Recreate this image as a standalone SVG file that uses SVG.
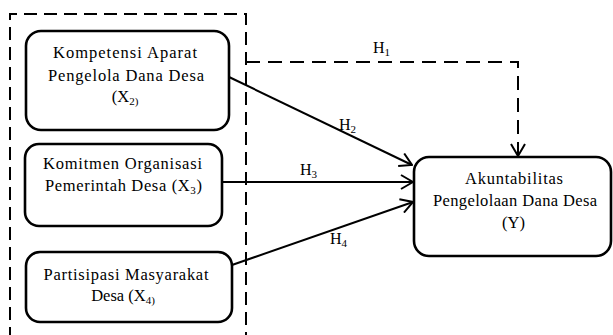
<svg xmlns="http://www.w3.org/2000/svg" width="613" height="335" viewBox="0 0 613 335">
<style>
.box{fill:#fff;stroke:#000;stroke-width:2.6}
.t{font-family:"Liberation Serif","Times New Roman",serif;font-size:16.5px;fill:#000;text-anchor:middle}
.h{font-family:"Liberation Serif","Times New Roman",serif;font-size:16px;fill:#000}
.sub{font-size:11px}
.ln{stroke:#000;stroke-width:2;fill:none}
.dash{stroke:#000;stroke-width:2;fill:none;stroke-dasharray:14 8}
</style>
<defs>
<marker id="arr" markerUnits="userSpaceOnUse" markerWidth="14" markerHeight="16" viewBox="0 0 14 16" refX="13" refY="8" orient="auto">
<path d="M1,1 L13,8 L1,15" fill="none" stroke="#000" stroke-width="2"/>
</marker>
</defs>
<rect x="0" y="0" width="613" height="335" fill="#fff"/>
<g id="frame">
<path class="dash" d="M10,340 L10,14 L246,14 L246,340" style="stroke-dasharray:13 7"/>
</g>
<g id="x2">
<rect class="box" x="26" y="31" width="203" height="99" rx="15"/>
<text class="t" x="125" y="58" textLength="144">Kompetensi Aparat</text>
<text class="t" x="126" y="81" textLength="156">Pengelola Dana Desa</text>
<text class="t" x="125" y="102">(X<tspan class="sub" dy="3">2)</tspan></text>
</g>
<g id="x3">
<rect class="box" x="25" y="144" width="197" height="82" rx="14"/>
<text class="t" x="122.5" y="169" textLength="159">Komitmen Organisasi</text>
<text class="t" x="123.5" y="191" textLength="157">Pemerintah Desa (X<tspan class="sub" dy="3">3</tspan><tspan dy="-3">)</tspan></text>
</g>
<g id="x4">
<rect class="box" x="26" y="252" width="206" height="70" rx="14"/>
<text class="t" x="126" y="280" textLength="165">Partisipasi Masyarakat</text>
<text class="t" x="123" y="301">Desa (X<tspan class="sub" dy="3">4)</tspan></text>
</g>
<g id="y">
<rect class="box" x="414" y="157" width="197" height="99" rx="15"/>
<text class="t" x="514" y="184" textLength="98">Akuntabilitas</text>
<text class="t" x="515" y="206" textLength="164">Pengelolaan Dana Desa</text>
<text class="t" x="513.5" y="228">(Y)</text>
</g>
<g id="connectors">
<polyline class="dash" points="246,62 518,62 518,156" marker-end="url(#arr)"/>
<line class="ln" x1="229" y1="77" x2="412" y2="165" marker-end="url(#arr)"/>
<line class="ln" x1="222" y1="182" x2="413" y2="182" marker-end="url(#arr)"/>
<line class="ln" x1="232" y1="265" x2="413" y2="202" marker-end="url(#arr)"/>
</g>
<g id="labels">
<text class="h" x="373" y="53">H<tspan class="sub" dy="3">1</tspan></text>
<text class="h" x="339" y="130">H<tspan class="sub" dy="3">2</tspan></text>
<text class="h" x="300" y="175">H<tspan class="sub" dy="3">3</tspan></text>
<text class="h" x="330" y="244">H<tspan class="sub" dy="3">4</tspan></text>
</g>
</svg>
